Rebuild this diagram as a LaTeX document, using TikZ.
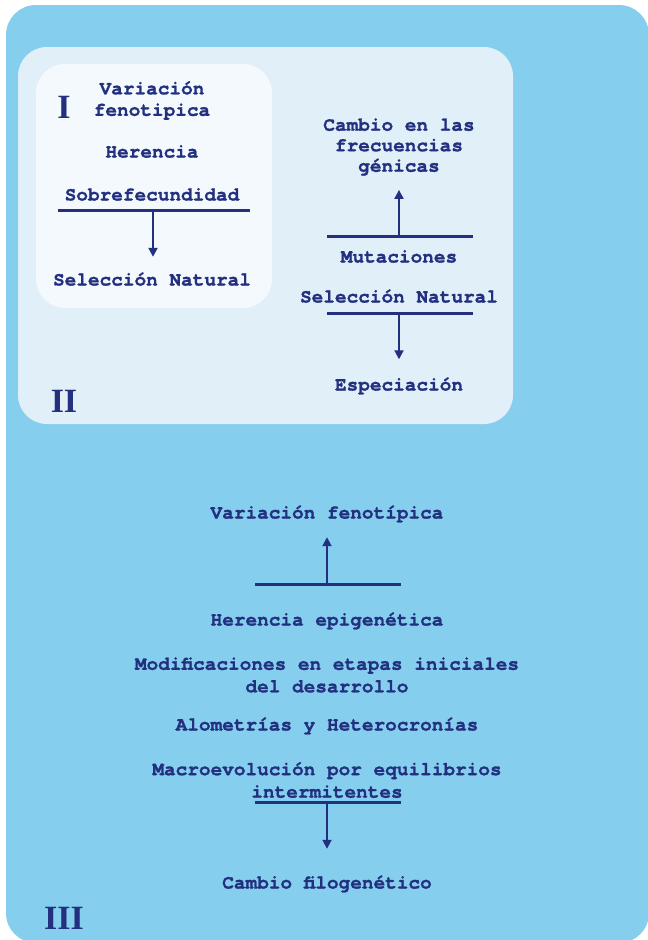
\documentclass[tikz,border=0pt]{standalone}
\usepackage{fontspec}
\setmonofont[BoldFeatures={FakeBold=1.2}]{TeX Gyre Cursor}
\newfontfamily\numfont{Liberation Serif}
\usetikzlibrary{arrows.meta}
\definecolor{outerblue}{HTML}{86CEEE}
\definecolor{midblue}{HTML}{E1EFF9}
\definecolor{innerblue}{HTML}{F4F9FE}
\definecolor{ink}{HTML}{22307F}
\begin{document}
\begin{tikzpicture}[x=1pt,y=-1pt,
  txt/.style={text=ink, font=\ttfamily\bfseries\fontsize{19.4}{21.5}\selectfont, inner sep=0pt, text height=11pt, text depth=0pt},
  mtxt/.style={text=ink, font=\ttfamily\bfseries\fontsize{19.4}{21.5}\selectfont, inner sep=0pt, align=center},
  num/.style={text=ink, font=\numfont\bfseries\fontsize{34}{34}\selectfont, inner sep=0pt},
  bar/.style={draw=ink, line width=3pt},
  arr/.style={draw=ink, line width=2pt, -{Triangle[length=9pt,width=9pt]}}]
\useasboundingbox (0,0) rectangle (648,940);
\clip (0,0) rectangle (648,940);
% panels
\fill[outerblue, rounded corners=30pt] (6,5) rectangle (649,943);
\fill[midblue, rounded corners=29pt] (18,47) rectangle (513,424);
\fill[innerblue, rounded corners=29pt] (36,64) rectangle (272,308);
% box I
\node[num] (nI) at (64,107) {I};
\node[mtxt] (v1) at (152,100.5) {Variación\\fenotipica};
\node[txt] (h1) at (152,152) {Herencia};
\node[txt] (s1) at (152,195) {Sobrefecundidad};
\node[txt] (sn1) at (152,280) {Selección Natural};
\coordinate (b1l) at (58,210);
\coordinate (b1r) at (250,210);
\coordinate (b1m) at (153,210);
\draw[bar] (b1l) -- (b1r);
\draw[arr, shorten >=17.5pt] (b1m) -- (b1m |- sn1.north);
% box II
\node[num] (nII) at (64,401) {II};
\node[mtxt, font=\ttfamily\bfseries\fontsize{19.4}{20.5}\selectfont] (cf) at (399,147) {Cambio en las\\frecuencias\\génicas};
\node[txt] (mu) at (399,257) {Mutaciones};
\node[txt] (sn2) at (399,297) {Selección Natural};
\node[txt] (es) at (399,385) {Especiación};
\coordinate (b2l) at (327,236);
\coordinate (b2r) at (473,236);
\coordinate (b2m) at (399,236);
\coordinate (b3l) at (327,313);
\coordinate (b3r) at (473,313);
\coordinate (b3m) at (399,313);
\draw[bar] (b2l) -- (b2r);
\draw[bar] (b3l) -- (b3r);
\draw[arr, shorten >=14pt] (b2m) -- (b2m |- cf.south);
\draw[arr, shorten >=20pt] (b3m) -- (b3m |- es.north);
% section III
\node[num] (nIII) at (64,918) {III};
\node[txt] (vf) at (327,513) {Variación fenotípica};
\node[txt] (he) at (327,620) {Herencia epigenética};
\node[mtxt, font=\ttfamily\bfseries\fontsize{19.4}{22.5}\selectfont] (mo) at (327,675) {Modificaciones en etapas iniciales\\del desarrollo};
\node[txt] (al) at (327,725) {Alometrías y Heterocronías};
\node[mtxt, font=\ttfamily\bfseries\fontsize{19.4}{22.5}\selectfont] (ma) at (327,780) {Macroevolución por equilibrios\\intermitentes};
\node[txt] (cfi) at (327,883) {Cambio filogenético};
\coordinate (b4l) at (255,584);
\coordinate (b4r) at (401,584);
\coordinate (b4m) at (327,584);
\coordinate (b5l) at (255,802);
\coordinate (b5r) at (401,802);
\coordinate (b5m) at (327,802);
\draw[bar] (b4l) -- (b4r);
\draw[bar] (b5l) -- (b5r);
\draw[arr, shorten >=18.5pt] (b4m) -- (b4m |- vf.south);
\draw[arr, shorten >=28.5pt] (b5m) -- (b5m |- cfi.north);
\end{tikzpicture}
\end{document}
